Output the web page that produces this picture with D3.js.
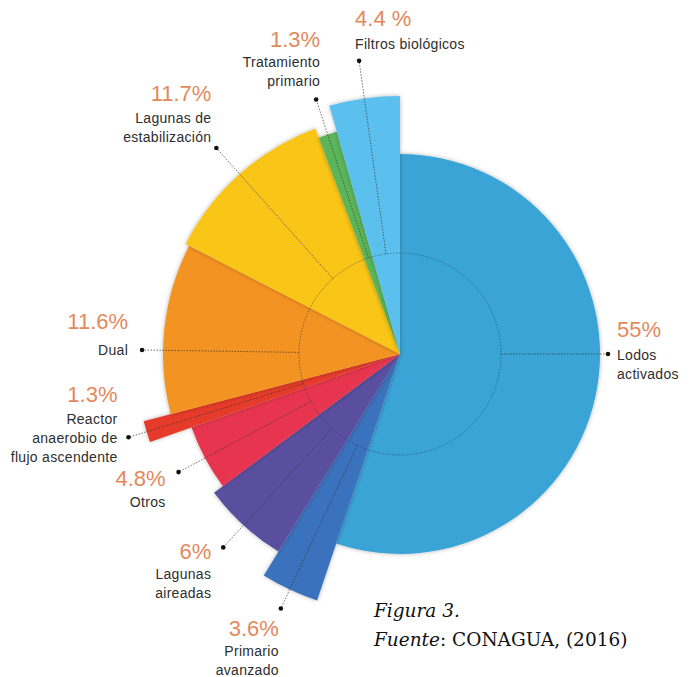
<!DOCTYPE html>
<html>
<head>
<meta charset="utf-8">
<script src="https://cdn.jsdelivr.net/npm/d3@7"></script>
<style>
  body { margin: 0; background: #fff; }
  .pct { font-family: "Liberation Sans", Arial, sans-serif; fill: #e3895c; font-size: 22px; }
  .name { font-family: "Liberation Sans", Arial, sans-serif; fill: #2e2e2e; font-size: 14px; letter-spacing: 0.3px; }
  .cap { font-family: "DejaVu Serif", "Liberation Serif", serif; font-size: 18.5px; fill: #111; }
</style>
</head>
<body>
<svg id="chart" width="692" height="677"></svg>
<script>
// data, clockwise from 12 o'clock
const categories = ["Lodos activados", "Primario avanzado", "Lagunas aireadas", "Otros",
  "Reactor anaerobio de flujo ascendente", "Dual", "Lagunas de estabilización",
  "Tratamiento primario", "Filtros biológicos"];
const shares = [55, 3.6, 6, 4.8, 1.3, 11.6, 11.7, 1.3, 4.4];
const pctLabels = ["55%", "3.6%", "6%", "4.8%", "1.3%", "11.6%", "11.7%", "1.3%", "4.4 %"];
const nameLines = [["Lodos", "activados"], ["Primario", "avanzado"], ["Lagunas", "aireadas"], ["Otros"],
  ["Reactor", "anaerobio de", "flujo ascendente"], ["Dual"], ["Lagunas de", "estabilización"],
  ["Tratamiento", "primario"], ["Filtros biológicos"]];

const colors = ["#3aa4d6", "#3b72bd", "#5a4f9f", "#e8354f", "#e63b2a", "#f39322", "#f9c517", "#5cb55a", "#5cc0ee"];
// outer radius of each wedge (decorative, as in the original)
const outerR = [200, 260, 232, 221, 265, 237, 241, 231, 258];
// label layout: dot radius, optional fixed angle (deg), text anchor, text offsets
const labelLayout = [
  { r: 208, ang: 90,  anchor: "start", dx: 9,   pctDy: -17, nameDy: 6 },
  { r: 281, anchor: "end", dx: -2,  pctDy: 28,  nameDy: 48 },
  { r: 262, anchor: "end", dx: -12, pctDy: 12,  nameDy: 32 },
  { r: 251, anchor: "end", dx: -13, pctDy: 14,  nameDy: 35 },
  { r: 284, anchor: "end", dx: -11, pctDy: -35, nameDy: -13 },
  { r: 258, ang: 270.9, anchor: "end", dx: -14, pctDy: -21, nameDy: 5 },
  { r: 276, anchor: "end", dx: -5,  pctDy: -47, nameDy: -25 },
  { r: 268, anchor: "end", dx: 4,   pctDy: -52, nameDy: -32 },
  { r: 296, anchor: "start", dx: -4, pctDy: -35, nameDy: -12 }
];

const svg = d3.select("#chart");
const cx = 400, cy = 354, innerRing = 101;

const defs = svg.append("defs");
const f = defs.append("filter").attr("id", "shadow").attr("x", "-20%").attr("y", "-20%").attr("width", "140%").attr("height", "140%");
f.append("feDropShadow").attr("dx", 0).attr("dy", 0).attr("stdDeviation", 2).attr("flood-color", "#000").attr("flood-opacity", 0.3);

const data = categories.map((c, i) => ({ name: c, value: shares[i], i }));
const pie = d3.pie().value(d => d.value).sort(null).startAngle(0).endAngle(2 * Math.PI);
const arcs = pie(data);

const g = svg.append("g").attr("transform", `translate(${cx},${cy})`);
const arc = d3.arc().innerRadius(0).outerRadius(d => outerR[d.data.i]);

g.selectAll("path.slice").data(arcs).join("path")
  .attr("class", "slice")
  .attr("d", arc)
  .attr("fill", d => colors[d.data.i])
  .attr("filter", "url(#shadow)");

// inner dashed ring
g.append("circle").attr("r", innerRing).attr("fill", "none")
  .attr("stroke", "#1d3f5e").attr("stroke-opacity", 0.55).attr("stroke-width", 1).attr("stroke-dasharray", "1.5,1.5");

const toXY = (deg, r) => { const a = deg * Math.PI / 180; return [Math.sin(a) * r, -Math.cos(a) * r]; };

arcs.forEach(d => {
  const i = d.data.i, L = labelLayout[i];
  const deg = L.ang !== undefined ? L.ang : (d.startAngle + d.endAngle) / 2 * 180 / Math.PI;
  const [x0, y0] = toXY(deg, innerRing);
  const [x1, y1] = toXY(deg, L.r);
  g.append("line").attr("x1", x0).attr("y1", y0).attr("x2", x1).attr("y2", y1)
    .attr("stroke", "#333").attr("stroke-opacity", 0.7).attr("stroke-width", 1).attr("stroke-dasharray", "1.5,1.5");
  g.append("circle").attr("cx", x1).attr("cy", y1).attr("r", 2.3).attr("fill", "#111");

  const tx = x1 + L.dx;
  g.append("text").attr("class", "pct").attr("x", tx).attr("y", y1 + L.pctDy)
    .attr("text-anchor", L.anchor).text(pctLabels[i]);
  const t = g.append("text").attr("class", "name").attr("x", tx).attr("y", y1 + L.nameDy)
    .attr("text-anchor", L.anchor);
  nameLines[i].forEach((ln, k) => {
    t.append("tspan").attr("x", tx).attr("dy", k === 0 ? 0 : 19).text(ln);
  });
});

// caption
const cap = svg.append("text").attr("class", "cap").attr("x", 374).attr("y", 617);
cap.append("tspan").attr("font-style", "italic").text("Figura 3.");
const cap2 = svg.append("text").attr("class", "cap").attr("x", 374).attr("y", 646);
cap2.append("tspan").attr("font-style", "italic").text("Fuente");
cap2.append("tspan").text(": CONAGUA, (2016)");
</script>
</body>
</html>
